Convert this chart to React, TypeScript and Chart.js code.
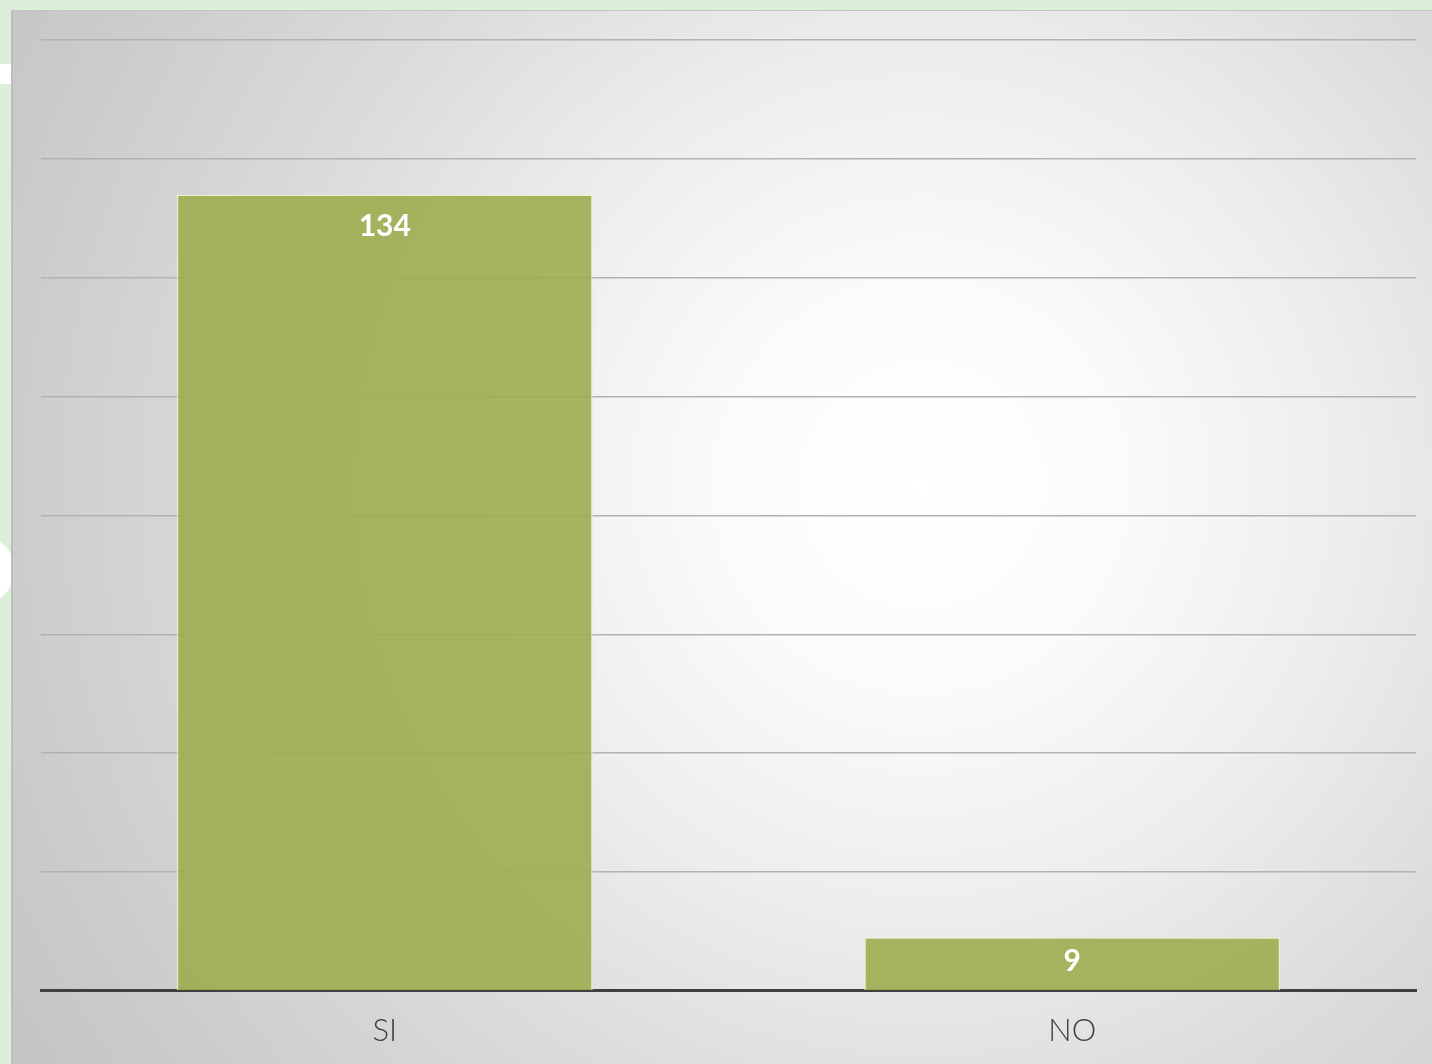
import React, { useEffect, useRef } from "react";
import { Chart, registerables } from "chart.js";

Chart.register(...registerables);

const categories: string[] = ["SI", "NO"];
const values: number[] = [134, 9];
const yMin = 0;
const yMax = 160;
const yStep = 20;

const labelPlugin = {
  id: "barLabels",
  afterDatasetsDraw(chart: any) {
    const ctx = chart.ctx;
    const meta = chart.getDatasetMeta(0);
    ctx.save();
    ctx.fillStyle = "#ffffff";
    ctx.font = "bold 30px Lato, 'Open Sans', sans-serif";
    ctx.textAlign = "center";
    ctx.textBaseline = "middle";
    meta.data.forEach((bar: any, i: number) => {
      const top = bar.y;
      const base = bar.base;
      const y = Math.min(top + 32, (top + base) / 2 - 2);
      ctx.fillText(String(values[i]), bar.x, y);
    });
    ctx.restore();
  },
};

export default function App() {
  const ref = useRef<HTMLCanvasElement>(null);
  useEffect(() => {
    if (!ref.current) return;
    const chart = new Chart(ref.current, {
      type: "bar",
      data: {
        labels: categories,
        datasets: [
          {
            data: values,
            backgroundColor: "rgba(156,173,78,0.9)",
            borderColor: "rgba(232,238,205,0.95)",
            borderWidth: { top: 1.5, left: 1.5, right: 1.5, bottom: 0 },
            borderSkipped: "bottom",
            categoryPercentage: 1,
            barPercentage: 0.605,
          },
        ],
      },
      options: {
        responsive: false,
        animation: false,
        layout: { padding: { left: 30, right: 14, top: 30, bottom: 15 } },
        plugins: {
          legend: { display: false },
          tooltip: { enabled: false },
          title: { display: false },
        },
        scales: {
          x: {
            grid: { display: false, drawTicks: false },
            border: { display: true, color: "#404040", width: 3 },
            ticks: {
              color: "#404040",
              padding: 22,
              font: { family: "Lato, 'Open Sans', sans-serif", size: 31, weight: "300" as any },
            },
          },
          y: {
            min: yMin,
            max: yMax,
            ticks: { display: false, stepSize: yStep },
            grid: { color: "#b2b2b2", lineWidth: 1.5, drawTicks: false },
            border: { display: false },
          },
        },
      },
      plugins: [labelPlugin],
    });
    return () => chart.destroy();
  }, []);

  return (
    <div
      style={{
        position: "fixed",
        left: 0,
        top: 0,
        width: 1432,
        height: 1064,
        background: "#dcefd9",
        overflow: "hidden",
      }}
    >
      <div style={{ position: "absolute", left: 0, top: 64, width: 14, height: 20, background: "#ffffff", borderRadius: "0 40% 40% 0" }} />
      <div style={{ position: "absolute", left: -30, top: 540, width: 44, height: 60, background: "#ffffff", borderRadius: "50%" }} />
      <div
        style={{
          position: "absolute",
          left: 11,
          top: 10,
          width: 1421,
          height: 1054,
          borderLeft: "2px solid #bdbdbd",
          borderTop: "1px solid #c4c4c4",
          boxSizing: "border-box",
          overflow: "hidden",
          background:
            "radial-gradient(farthest-corner circle at 64% 45%, #ffffff 0%, #fbfbfb 18%, #ededed 40%, #dbdbdb 62%, #cccccc 85%, #c4c4c4 100%)",
        }}
      >
        <canvas ref={ref} width={1419} height={1077} style={{ display: "block", position: "absolute", left: -2, top: -1 }} />
      </div>
    </div>
  );
}
